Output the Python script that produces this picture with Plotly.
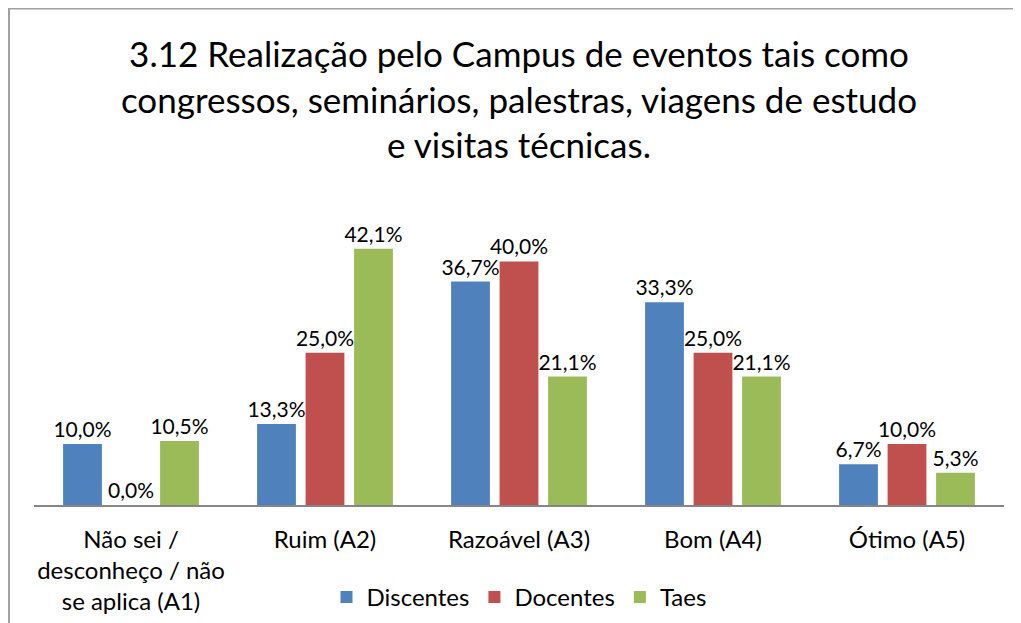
import plotly.graph_objects as go

# cores estilo Excel
COR_AZUL = "#4F81BD"
COR_VERMELHO = "#C0504D"
COR_VERDE = "#9BBB59"
FONTE = "Lato, 'Open Sans', Arial, sans-serif"

categorias = [
    "Não sei /<br>desconheço / não<br>se aplica (A1)",
    "Ruim (A2)",
    "Razoável (A3)",
    "Bom (A4)",
    "Ótimo (A5)",
]
discentes = [0.100, 0.133, 0.367, 0.333, 0.067]
docentes = [0.000, 0.250, 0.400, 0.250, 0.100]
taes = [0.105, 0.421, 0.211, 0.211, 0.053]

series = [
    ("Discentes", discentes, COR_AZUL),
    ("Docentes", docentes, COR_VERMELHO),
    ("Taes", taes, COR_VERDE),
]

fig = go.Figure()
for nome, valores, cor in series:
    fig.add_trace(go.Bar(
        name=nome, x=categorias, y=valores,
        marker=dict(color=cor, line=dict(width=0)),
        texttemplate="%{y:.1%}", textposition="outside",
        constraintext="none", cliponaxis=False,
        textfont=dict(size=21, color="#000000"),
    ))

fig.update_layout(
    width=1021, height=623,
    separators=",.",
    paper_bgcolor="white", plot_bgcolor="white",
    font=dict(family=FONTE, size=24, color="#000000"),
    title=dict(
        text="3.12 Realização pelo Campus de eventos tais como<br>"
             "congressos, seminários, palestras, viagens de estudo<br>"
             "e visitas técnicas.",
        x=0.5, xref="paper", xanchor="center",
        y=1 - 59 / 623, yref="container", yanchor="top",
        font=dict(size=35, family=FONTE, color="#000000"),
    ),
    barmode="group", bargap=0.25, bargroupgap=0.2,
    margin=dict(l=26, r=25, t=223, b=126, autoexpand=False),
    showlegend=True,
    legend=dict(
        orientation="h", x=0.5, xanchor="center",
        y=-0.255, yanchor="top",
        font=dict(size=24), itemwidth=30,
    ),
    xaxis=dict(
        showline=True, linecolor="#868686", linewidth=2,
        ticks="", showgrid=False, tickfont=dict(size=24),
        automargin=False, ticklabelstandoff=12,
    ),
    yaxis=dict(
        range=[0, 0.45], visible=False, showgrid=False, automargin=False,
    ),
    shapes=[dict(
        type="rect", xref="paper", yref="paper",
        x0=-0.0258, x1=1.2, y0=-0.6, y1=1.812,
        line=dict(color="#A0A0A0", width=2), layer="below",
    )],
)

fig.write_html("out.html")
